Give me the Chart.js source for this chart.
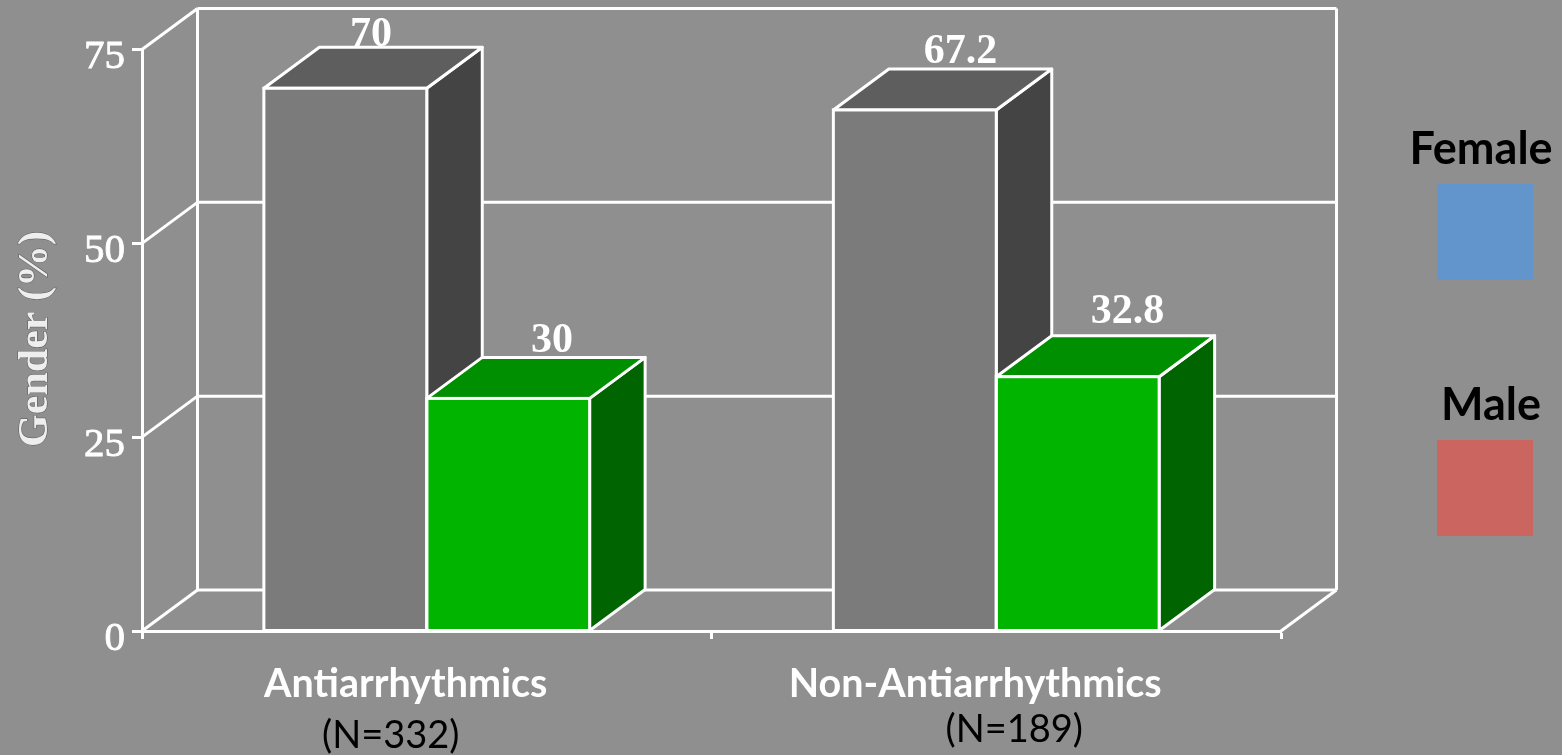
<!DOCTYPE html>
<html>
<head>
<meta charset="utf-8">
<title>Gender</title>
<script src="https://cdn.jsdelivr.net/npm/chart.js@4"></script>
<style>
  html, body { margin: 0; padding: 0; background: #8f8f8f; overflow: hidden; }
  canvas { display: block; }
</style>
</head>
<body>
<canvas id="chart" width="1562" height="755"></canvas>
<script>
var categories = ['Antiarrhythmics', 'Non-Antiarrhythmics'];
var sampleSizes = ['(N=332)', '(N=189)'];
var femaleValues = [70, 67.2];
var maleValues = [30, 32.8];
var valueLabels = [['70', '67.2'], ['30', '32.8']];
var yTicks = [0, 25, 50, 75];
var legendNames = ['Female', 'Male'];
var yTitle = 'Gender (%)';

var WHITE = '#ffffff';
var DEPTH_X = 55.5;
var DEPTH_Y = 41;
var SERIF = '"Liberation Serif", serif';
var SANS = 'Lato, sans-serif';

// front, top and side colours of each series' boxes
var boxColors = [
    { front: '#7b7b7b', top: '#5e5e5e', side: '#444444' },
    { front: '#00b400', top: '#008f00', side: '#006400' }
];

function strokePoly(ctx, pts, fill) {
    ctx.beginPath();
    ctx.moveTo(pts[0][0], pts[0][1]);
    for (var i = 1; i < pts.length; i++) {
        ctx.lineTo(pts[i][0], pts[i][1]);
    }
    ctx.closePath();
    if (fill) {
        ctx.fillStyle = fill;
        ctx.fill();
    }
    ctx.stroke();
}

function line(ctx, x1, y1, x2, y2) {
    ctx.beginPath();
    ctx.moveTo(x1, y1);
    ctx.lineTo(x2, y2);
    ctx.stroke();
}

// back wall, side wall and floor of the 3D box
var wallsPlugin = {
    id: 'walls',
    beforeDatasetsDraw: function(chart) {
        var ctx = chart.ctx;
        var area = chart.chartArea;
        var y = chart.scales.y;
        ctx.save();
        ctx.strokeStyle = WHITE;
        ctx.lineWidth = 3;
        ctx.lineJoin = 'round';
        yTicks.forEach(function(t) {
            var py = y.getPixelForValue(t);
            line(ctx, area.left, py, area.left + DEPTH_X, py - DEPTH_Y);
            line(ctx, area.left + DEPTH_X, py - DEPTH_Y, area.right + DEPTH_X, py - DEPTH_Y);
        });
        line(ctx, area.left + DEPTH_X, area.top - DEPTH_Y, area.left + DEPTH_X, area.bottom - DEPTH_Y);
        line(ctx, area.right + DEPTH_X, area.top - DEPTH_Y, area.right + DEPTH_X, area.bottom - DEPTH_Y);
        line(ctx, area.right, area.bottom, area.right + DEPTH_X, area.bottom - DEPTH_Y);
        ctx.restore();
    }
};

// top and side faces are laid down before the library paints the bar fronts
var depthPlugin = {
    id: 'depth',
    beforeDatasetsDraw: function(chart) {
        var ctx = chart.ctx;
        ctx.save();
        ctx.strokeStyle = WHITE;
        ctx.lineWidth = 3;
        ctx.lineJoin = 'round';
        chart.data.datasets.forEach(function(ds, d) {
            chart.getDatasetMeta(d).data.forEach(function(bar) {
                var left = bar.x - bar.width / 2;
                var right = bar.x + bar.width / 2;
                strokePoly(ctx, [
                    [right, bar.y], [right + DEPTH_X, bar.y - DEPTH_Y],
                    [right + DEPTH_X, bar.base - DEPTH_Y], [right, bar.base]
                ], boxColors[d].side);
                strokePoly(ctx, [
                    [left, bar.y], [left + DEPTH_X, bar.y - DEPTH_Y],
                    [right + DEPTH_X, bar.y - DEPTH_Y], [right, bar.y]
                ], boxColors[d].top);
            });
        });
        ctx.restore();
    },
    // white edge centred on each bar front, so neighbouring bars share one line
    afterDatasetsDraw: function(chart) {
        var ctx = chart.ctx;
        ctx.save();
        ctx.strokeStyle = WHITE;
        ctx.lineWidth = 3;
        chart.data.datasets.forEach(function(ds, d) {
            chart.getDatasetMeta(d).data.forEach(function(bar) {
                ctx.strokeRect(bar.x - bar.width / 2, bar.y, bar.width, bar.base - bar.y);
            });
        });
        ctx.restore();
    }
};

// value labels, axis title, sample sizes and the legend
var labelShift = [[{ x: -2, y: -1 }, { x: 18, y: -6 }], [{ x: 16, y: -5 }, { x: 22, y: -13 }]];
var sampleShift = [{ x: -36, y: 117 }, { x: 18, y: 111 }];

var textPlugin = {
    id: 'texts',
    afterDatasetsDraw: function(chart) {
        var ctx = chart.ctx;
        var area = chart.chartArea;
        ctx.save();
        ctx.textAlign = 'center';
        ctx.textBaseline = 'alphabetic';

        ctx.font = 'bold 42px ' + SERIF;
        ctx.fillStyle = WHITE;
        chart.data.datasets.forEach(function(ds, d) {
            chart.getDatasetMeta(d).data.forEach(function(bar, i) {
                var s = labelShift[d][i];
                ctx.fillText(valueLabels[d][i], bar.x + DEPTH_X / 2 + s.x, bar.y - DEPTH_Y + s.y);
            });
        });

        // rotated title with a thin dark edge round the letters
        ctx.save();
        ctx.translate(47, 339);
        ctx.rotate(-Math.PI / 2);
        ctx.font = 'bold 42px ' + SERIF;
        ctx.lineWidth = 1;
        ctx.strokeStyle = 'rgba(70,70,70,0.75)';
        ctx.strokeText(yTitle, 0, 0);
        ctx.fillStyle = '#eeeeee';
        ctx.fillText(yTitle, 0, 0);
        ctx.restore();

        ctx.font = '38px ' + SANS;
        ctx.fillStyle = '#000000';
        sampleSizes.forEach(function(txt, i) {
            var px = chart.scales.x.getPixelForTick(i);
            ctx.fillText(txt, px + sampleShift[i].x, area.bottom + sampleShift[i].y);
        });

        ctx.font = 'bold 45px ' + SANS;
        ctx.fillText(legendNames[0], 1481, 164);
        ctx.fillText(legendNames[1], 1491, 420);
        ctx.fillStyle = '#6295cb';
        ctx.fillRect(1437, 184, 96, 96);
        ctx.fillStyle = '#cb655f';
        ctx.fillRect(1437, 440, 96, 96);
        ctx.restore();
    }
};

new Chart(document.getElementById('chart').getContext('2d'), {
    type: 'bar',
    data: {
        labels: categories,
        datasets: [
            { label: legendNames[0], data: femaleValues, backgroundColor: boxColors[0].front },
            { label: legendNames[1], data: maleValues, backgroundColor: boxColors[1].front }
        ]
    },
    options: {
        responsive: false,
        animation: false,
        layout: { padding: { top: 49.5, right: 281, left: 0, bottom: 0 } },
        categoryPercentage: 0.572,
        barPercentage: 1,
        borderWidth: 0,
        inflateAmount: 0,
        plugins: { legend: { display: false }, tooltip: { enabled: false } },
        scales: {
            x: {
                afterFit: function(scale) { scale.height = 124; },
                border: { color: WHITE, width: 3 },
                grid: { offset: true, drawOnChartArea: false, tickColor: WHITE, tickLength: 8, tickWidth: 3 },
                ticks: {
                    color: WHITE,
                    font: { family: SANS, size: 39.5, weight: 'bold' },
                    padding: 22,
                    labelOffset: -21,
                    maxRotation: 0,
                    autoSkip: false
                }
            },
            y: {
                min: 0,
                max: 75,
                afterFit: function(scale) { scale.width = 142; },
                afterBuildTicks: function(scale) {
                    scale.ticks = yTicks.map(function(v) { return { value: v }; });
                },
                border: { color: WHITE, width: 3 },
                grid: { drawOnChartArea: false, tickColor: WHITE, tickLength: 10, tickWidth: 3 },
                ticks: {
                    color: WHITE,
                    font: { family: SERIF, size: 41, weight: 'normal' },
                    textStrokeColor: WHITE,
                    textStrokeWidth: 0.8,
                    padding: 7,
                    labelOffset: 8
                }
            }
        }
    },
    plugins: [wallsPlugin, depthPlugin, textPlugin]
});
</script>
</body>
</html>
